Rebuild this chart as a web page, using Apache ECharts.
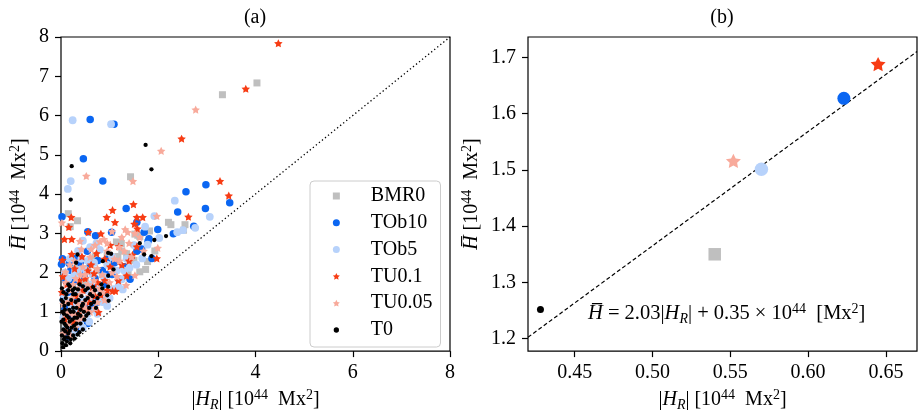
<!DOCTYPE html>
<html>
<head>
<meta charset="utf-8">
<script src="https://cdn.jsdelivr.net/npm/echarts@6/dist/echarts.min.js"></script>
<style>
html,body{margin:0;padding:0;background:#fff;}
#chart{width:918px;height:417px;}
</style>
</head>
<body>
<div id="chart"></div>
<script>
// ---------------- data ----------------
const seriesNames = ['BMR0', 'TOb10', 'TOb5', 'TU0.1', 'TU0.05', 'T0'];

const bmr0 = [[4.03,6.83],[3.32,6.53],[1.43,4.44],[0.15,3.50],[0.34,3.32],[0.19,3.17],[2.21,3.28],[2.26,3.22],[2.55,3.22],[2.52,3.08],[1.82,3.06],[1.62,2.92],[1.52,2.98],[1.35,2.48],[1.14,2.33],[1.50,2.31],[1.38,2.00],[1.62,2.02],[1.74,2.08],[1.78,2.28],[1.93,2.55],[1.14,2.78],[1.24,2.74],[1.17,2.41],[1.58,2.95],[0.55,2.10],[0.42,1.72],[0.85,1.95],[0.30,1.30],[0.62,1.45],[0.18,0.95],[0.95,2.45],[0.70,2.40],[0.10,0.60],[0.45,1.05],[0.25,1.55],[0.50,1.75],[0.75,2.05],[1.00,2.20],[0.35,2.20],[0.65,1.20],[0.20,2.10],[1.25,2.55],[0.80,1.40]];

const tob10 = [[0.60,5.90],[1.09,5.78],[0.46,4.90],[0.86,4.33],[2.98,4.24],[2.57,4.06],[3.47,3.78],[2.97,3.63],[2.40,3.54],[1.34,3.63],[0.02,3.42],[0.55,3.04],[1.04,3.03],[0.71,2.94],[1.56,3.28],[1.71,3.03],[1.99,3.10],[2.31,2.99],[2.73,3.18],[1.81,2.86],[0.03,2.35],[0.17,2.23],[0.29,2.35],[0.54,2.54],[0.60,2.23],[0.40,2.25],[0.94,2.33],[1.42,1.83],[1.56,2.54],[1.66,2.60],[1.87,2.36],[0.80,1.58],[1.19,1.83],[0.01,2.21],[0.76,2.31],[1.79,2.80],[0.48,1.90],[0.25,1.75],[0.70,1.85],[0.35,1.25],[0.15,1.50],[0.58,1.35],[0.90,1.70],[0.22,0.90],[0.08,1.10],[0.40,0.80],[0.65,1.10],[1.05,1.95],[0.12,0.35],[0.30,0.55],[0.10,1.80],[0.20,2.05],[0.45,1.60],[0.62,1.65],[0.85,2.05],[1.10,2.25],[0.30,1.00],[0.50,1.10],[0.18,0.65],[0.05,1.30],[0.75,1.25],[1.30,2.15],[0.38,2.05],[0.95,1.95],[0.55,0.70],[0.25,1.30]];

const tob5 = [[0.24,5.88],[1.03,5.78],[0.20,4.33],[0.14,4.13],[2.34,3.83],[3.06,3.42],[2.76,3.14],[2.51,3.08],[2.39,3.03],[1.73,3.17],[1.92,3.44],[2.02,2.88],[1.78,2.71],[0.73,2.75],[0.45,2.81],[0.29,2.04],[0.37,2.07],[1.25,1.83],[1.27,1.57],[1.08,1.58],[1.41,2.12],[1.67,2.36],[0.80,2.58],[0.60,2.65],[1.50,2.70],[0.95,2.20],[0.20,1.60],[0.50,1.55],[0.65,1.95],[0.85,1.25],[0.40,1.20],[0.12,1.30],[0.30,0.85],[0.55,0.95],[0.70,1.05],[0.18,0.70],[0.45,0.60],[1.00,1.35],[0.08,2.00],[1.15,2.05],[0.35,1.55],[0.60,1.70],[0.90,1.45],[0.25,0.45],[0.05,0.85],[0.15,1.85],[0.28,1.95],[0.42,2.35],[0.52,2.05],[0.68,2.25],[0.78,1.62],[0.88,1.90],[1.05,2.40],[1.18,1.65],[0.32,1.05],[0.48,1.30],[0.62,1.30],[0.75,0.95],[0.22,1.15],[0.10,0.55],[0.38,0.70],[0.58,0.75],[0.95,1.15],[1.35,2.35],[0.05,1.45],[0.18,2.35],[0.35,2.55],[0.55,2.30],[1.55,2.20],[1.30,2.05]];

const tu01 = [[4.47,7.84],[3.80,6.68],[2.48,5.41],[3.27,4.33],[3.45,3.96],[2.62,3.42],[1.49,3.74],[1.06,3.59],[0.94,3.41],[1.11,3.28],[1.56,3.41],[1.68,3.41],[1.51,3.24],[1.57,3.12],[0.21,3.41],[0.16,3.16],[0.07,2.85],[0.22,2.85],[0.56,3.03],[0.82,2.99],[0.22,2.47],[0.43,2.41],[0.73,2.49],[1.01,2.70],[1.19,2.67],[1.47,2.45],[1.56,2.66],[1.97,2.36],[1.35,1.92],[1.06,1.53],[1.12,1.53],[0.77,0.99],[0.03,2.32],[0.04,1.90],[0.68,1.98],[1.01,2.15],[0.65,1.63],[0.82,1.43],[0.50,1.85],[0.30,1.40],[0.40,1.10],[0.15,1.00],[0.58,1.25],[0.90,1.80],[0.25,0.75],[0.10,0.50],[0.70,1.40],[1.25,2.20],[0.12,1.70],[0.38,1.80],[0.55,2.05],[0.90,2.35],[0.62,2.20],[0.28,2.10],[0.45,1.55],[0.75,1.75],[0.20,1.25],[0.52,1.05],[0.35,0.95],[0.08,0.80],[1.18,1.80],[1.40,2.30],[0.95,1.55],[0.02,1.50]];

const tu005 = [[2.77,6.15],[2.06,5.10],[0.52,4.46],[1.48,4.33],[0.02,3.27],[1.97,3.44],[0.39,2.80],[1.32,3.10],[1.37,3.03],[1.52,3.00],[1.62,2.90],[1.99,2.63],[0.09,2.02],[0.80,2.79],[0.88,2.85],[1.40,2.75],[1.20,2.65],[1.52,1.93],[1.34,1.68],[0.60,2.40],[0.95,2.55],[1.10,2.35],[0.45,2.15],[0.75,2.10],[0.30,1.85],[0.55,1.70],[0.85,1.95],[0.20,1.55],[0.40,1.45],[0.65,1.50],[1.00,1.75],[0.12,1.25],[0.35,1.20],[0.50,1.10],[0.25,0.95],[0.45,0.85],[0.15,0.70],[0.60,1.00],[0.30,0.60],[0.05,0.45],[0.20,0.40],[0.75,1.25],[1.15,1.90],[0.10,1.75],[1.70,2.55],[0.90,1.30],[0.18,2.20],[0.28,2.30],[0.42,2.60],[0.62,2.60],[0.70,2.70],[0.95,2.75],[1.05,3.05],[1.25,2.90],[0.50,1.95],[0.68,1.80],[0.80,1.60],[1.05,2.00],[1.20,2.30],[0.22,1.35],[0.35,1.60],[0.48,1.25],[0.58,1.40],[0.15,1.00],[0.35,0.80],[0.08,0.95],[0.25,1.70],[0.40,1.95],[0.05,1.20],[0.70,1.10],[0.85,1.50],[1.45,2.40],[1.30,2.55]];

const t0 = [[1.74,5.25],[1.86,4.63],[0.22,4.71],[0.20,3.86],[0.34,2.46],[0.31,2.25],[2.16,2.93],[1.92,2.83],[1.62,2.75],[1.71,2.46],[1.86,2.42],[0.86,2.29],[0.97,2.50],[1.03,2.48],[1.08,2.08],[0.97,1.92],[0.95,1.42],[0.98,1.28],[0.83,1.70],[0.97,1.64],[0.66,1.63],[0.18,1.65],[0.35,1.57],[0.45,1.20],[0.56,0.96],[0.05,1.50],[0.10,1.35],[0.15,1.20],[0.08,1.05],[0.20,1.00],[0.25,1.10],[0.30,1.25],[0.12,0.90],[0.05,0.80],[0.18,0.75],[0.28,0.85],[0.35,0.95],[0.40,1.05],[0.10,0.65],[0.22,0.60],[0.30,0.55],[0.05,0.55],[0.15,0.45],[0.25,0.40],[0.08,0.35],[0.12,0.25],[0.20,0.30],[0.03,0.20],[0.10,0.15],[0.40,0.70],[0.48,0.80],[0.55,1.35],[0.60,1.45],[0.70,1.55],[0.42,1.40],[0.50,1.55],[0.25,1.45],[0.15,1.55],[0.38,1.70],[0.03,1.00],[0.07,0.70],[0.32,0.70],[0.45,0.55],[0.62,1.20],[0.75,1.35],[0.28,1.60],[0.02,0.40],[0.18,0.52],[0.38,0.48],[0.02,1.60],[0.04,1.25],[0.06,0.95],[0.09,0.50],[0.13,0.60],[0.16,0.85],[0.17,1.05],[0.21,1.30],[0.23,0.80],[0.27,0.65],[0.26,1.00],[0.32,1.10],[0.33,0.85],[0.36,1.30],[0.40,0.90],[0.43,1.15],[0.47,1.00],[0.50,1.30],[0.52,0.90],[0.58,1.10],[0.65,1.40],[0.68,1.25],[0.72,1.10],[0.80,1.45],[0.85,1.60],[0.06,0.30],[0.14,0.35],[0.11,1.45],[0.07,1.15],[0.24,1.55],[0.30,1.45],[0.45,1.65],[0.55,1.60],[0.19,0.20],[0.04,0.10],[0.28,0.32],[0.34,0.42],[0.15,1.70],[0.01,0.75],[0.01,1.30]];

// panel (b): mean values, in seriesNames order
const meanHR = [0.540, 0.623, 0.570, 0.645, 0.552, 0.428];
const meanH  = [1.350, 1.627, 1.501, 1.688, 1.516, 1.252];

// reference lines
const diagonal = [[0, 0], [8, 8]];
const fitSlope = 2.03;
const fitIntercept = 0.35;
const fitRange = [0.42, 0.67];

// axes / ticks
const xRangeA = [0, 8];
const yRangeA = [0, 8];
const xRangeB = [0.42, 0.67];
const yRangeB = [1.178, 1.736];
const xTicksB = [0.45, 0.50, 0.55, 0.60, 0.65];
const yTicksB = [1.2, 1.3, 1.4, 1.5, 1.6, 1.7];

// ---------------- styles ----------------
const FONT = "'Liberation Serif', 'DejaVu Serif', serif";
const FS = 20;
const colors = {
  'BMR0': '#bfbfbf',
  'TOb10': '#0a66f2',
  'TOb5': '#b7d2fb',
  'TU0.1': '#f73c14',
  'TU0.05': '#f8aa9b',
  'T0': '#000000'
};

function starPath() {
  const pts = [];
  for (let i = 0; i < 10; i++) {
    const r = (i % 2 === 0) ? 10 : 5;
    const a = -Math.PI / 2 + i * Math.PI / 5;
    pts.push((r * Math.cos(a)).toFixed(3) + ',' + (r * Math.sin(a)).toFixed(3));
  }
  return 'path://M' + pts.join('L') + 'Z';
}
const STAR = starPath();

const symbols = {
  'BMR0': 'rect', 'TOb10': 'circle', 'TOb5': 'circle',
  'TU0.1': STAR, 'TU0.05': STAR, 'T0': 'circle'
};
const sizeA = { 'BMR0': 7, 'TOb10': 7.5, 'TOb5': 7.8, 'TU0.1': 8.5, 'TU0.05': 8.5, 'T0': 4.3 };
const sizeB = { 'BMR0': 12.5, 'TOb10': 13, 'TOb5': 13.5, 'TU0.1': 15, 'TU0.05': 15, 'T0': 7 };

const dataA = { 'BMR0': bmr0, 'TOb10': tob10, 'TOb5': tob5, 'TU0.1': tu01, 'TU0.05': tu005, 'T0': t0 };

function makeRich(fs) {
  return {
    n: { fontSize: fs, fontFamily: FONT, color: '#000', lineHeight: 24 },
    i: { fontSize: fs, fontFamily: FONT, color: '#000', lineHeight: 24, fontStyle: 'italic' },
    s: { fontSize: 14, fontFamily: FONT, color: '#000', lineHeight: 14, fontStyle: 'italic', verticalAlign: 'bottom' },
    p: { fontSize: 14, fontFamily: FONT, color: '#000', lineHeight: 14, verticalAlign: 'top' }
  };
}
const richBase = makeRich(FS);
const xName = '{n||}{i|H}{s|R}{n|| [10}{p|44}{n|  Mx}{p|2}{n|]}';
const yName = '{i|H\u0305}{n| [10}{p|44}{n|  Mx}{p|2}{n|]}';
const eqText = '{i|H\u0305}{n| = 2.03|}{i|H}{s|R}{n|| + 0.35 × 10}{p|44}{n|  [Mx}{p|2}{n|]}';

function valueAxis(gridIndex, range, extra) {
  const ax = {
    type: 'value',
    gridIndex: gridIndex,
    min: range[0],
    max: range[1],
    splitLine: { show: false },
    axisLine: { show: false },
    axisTick: { show: true, inside: false, length: 6, lineStyle: { color: '#000', width: 1.2 } },
    axisLabel: { show: true, margin: 12, color: '#000', fontSize: FS, fontFamily: FONT },
    nameLocation: 'middle',
    nameTextStyle: { rich: richBase, fontSize: FS, fontFamily: FONT, color: '#000', lineHeight: 24 }
  };
  return Object.assign(ax, extra);
}

const xAxes = [
  valueAxis(0, xRangeA, { interval: 2, name: xName, nameGap: 35 }),
  valueAxis(1, xRangeB, { name: xName, nameGap: 35 })
];
xAxes[1].axisLabel.customValues = xTicksB;
xAxes[1].axisLabel.formatter = v => v.toFixed(2);
xAxes[1].axisTick.customValues = xTicksB;

const yAxes = [
  valueAxis(0, yRangeA, { interval: 1, name: yName, nameGap: 29 }),
  valueAxis(1, yRangeB, { name: yName, nameGap: 44 })
];
yAxes[1].axisLabel.customValues = yTicksB;
yAxes[1].axisLabel.formatter = v => v.toFixed(1);
yAxes[1].axisTick.customValues = yTicksB;

const series = [];
// diagonal reference line in panel (a)
series.push({
  type: 'line', xAxisIndex: 0, yAxisIndex: 0, data: diagonal,
  symbol: 'none', silent: true, z: 1,
  lineStyle: { color: '#000', width: 1.3, type: [1.3, 2.6] }
});
seriesNames.forEach(name => {
  series.push({
    name: name, type: 'scatter', xAxisIndex: 0, yAxisIndex: 0,
    data: dataA[name], symbol: symbols[name], symbolSize: sizeA[name],
    symbolKeepAspect: true,
    itemStyle: { color: colors[name], opacity: 1 },
    emphasis: { disabled: true }, z: 2
  });
});
// fit line in panel (b)
series.push({
  type: 'line', xAxisIndex: 1, yAxisIndex: 1,
  data: fitRange.map(x => [x, fitSlope * x + fitIntercept]),
  symbol: 'none', silent: true, z: 1,
  lineStyle: { color: '#000', width: 1.2, type: [4, 2.5] }
});
seriesNames.forEach((name, k) => {
  series.push({
    name: name, type: 'scatter', xAxisIndex: 1, yAxisIndex: 1,
    data: [[meanHR[k], meanH[k]]], symbol: symbols[name], symbolSize: sizeB[name],
    symbolKeepAspect: true,
    itemStyle: { color: colors[name], opacity: 1 },
    emphasis: { disabled: true }, z: 2
  });
});

const legendData = seriesNames.map(name => {
  const d = { name: name };
  if (name === 'T0') d.itemStyle = { borderColor: '#fff', borderWidth: 1.7 };
  return d;
});

const option = {
  animation: false,
  backgroundColor: '#fff',
  title: [
    { text: '(a)', left: 255, top: 8, textAlign: 'center', padding: 0,
      textStyle: { fontSize: 20, fontWeight: 'normal', fontFamily: FONT, color: '#000' } },
    { text: '(b)', left: 722, top: 8, textAlign: 'center', padding: 0,
      textStyle: { fontSize: 20, fontWeight: 'normal', fontFamily: FONT, color: '#000' } },
    { text: eqText, left: 588, top: 302, padding: 0,
      textStyle: { rich: makeRich(20.5), fontSize: 20.5, fontWeight: 'normal', fontFamily: FONT, color: '#000' } }
  ],
  grid: [
    { left: 61, top: 37, width: 389, height: 319, show: true, borderColor: '#000', borderWidth: 1.2, backgroundColor: 'transparent' },
    { left: 528, top: 37, width: 389, height: 319, show: true, borderColor: '#000', borderWidth: 1.2, backgroundColor: 'transparent' }
  ],
  xAxis: xAxes,
  yAxis: yAxes,
  legend: {
    data: legendData,
    orient: 'vertical',
    left: 310, top: 181,
    padding: [5, 8, 7, 22],
    itemWidth: 7, itemHeight: 7,
    itemGap: 6.8,
    backgroundColor: 'rgba(255,255,255,0.85)',
    borderColor: '#cccccc', borderWidth: 1, borderRadius: 4,
    selectedMode: false,
    formatter: name => '{t|' + name + '}',
    textStyle: {
      fontSize: 20, fontFamily: FONT, color: '#000',
      rich: { t: { fontSize: 20, fontFamily: FONT, color: '#000', lineHeight: 20, padding: [0, 0, 0, 26] } }
    }
  },
  series: series
};

const chart = echarts.init(document.getElementById('chart'), null, { renderer: 'canvas' });
chart.setOption(option);
</script>
</body>
</html>
